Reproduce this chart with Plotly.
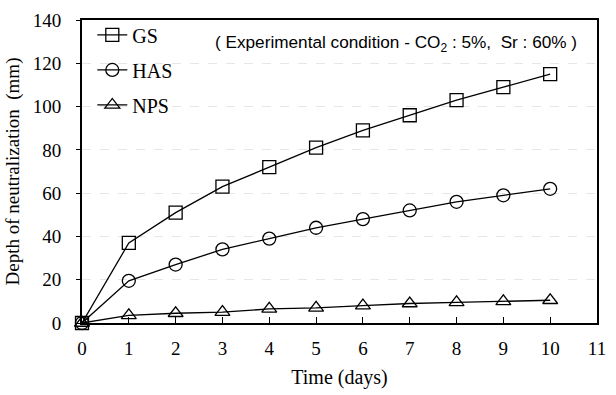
import plotly.graph_objects as go

days = [0, 1, 2, 3, 4, 5, 6, 7, 8, 9, 10]
gs = [0, 37, 51, 63, 72, 81, 89, 96, 103, 109, 115]
has = [0, 19.5, 27, 34, 39, 44, 48, 52, 56, 59, 62]
nps = [0, 3.5, 4.5, 5, 6.5, 7, 8, 9, 9.5, 10, 10.5]

series = [
    ("GS", gs, "square-open", 13),
    ("HAS", has, "circle-open", 13),
    ("NPS", nps, "triangle-up-open", 13),
]

fig = go.Figure()
for i, (name, vals, sym, sz) in enumerate(series):
    fig.add_trace(go.Scatter(
        x=days, y=vals, name=name, mode="lines+markers",
        line=dict(color="black", width=1.3),
        marker=dict(symbol=sym, size=sz, color="black", line=dict(width=1.3, color="black")),
        cliponaxis=False, legendgroup=name,
    ))

fig.add_annotation(
    x=0.61, y=0.924, xref="paper", yref="paper", xanchor="center", yanchor="middle",
    text="( Experimental condition - CO<sub>2</sub> : 5%,  Sr : 60% )",
    showarrow=False, font=dict(family="Liberation Sans", size=17.2, color="black"),
)

fig.update_layout(
    width=616, height=395,
    margin=dict(l=82, r=10, t=15, b=70),
    paper_bgcolor="white", plot_bgcolor="white",
    font=dict(family="Liberation Serif", color="black", size=19),
    showlegend=True,
    legend=dict(x=0.02, y=1.015, xanchor="left", yanchor="top",
                bgcolor="rgba(0,0,0,0)", font=dict(size=20, family="Liberation Serif"),
                tracegroupgap=6, itemwidth=30),
    xaxis=dict(range=[0, 11], dtick=1, tick0=0, showgrid=False, zeroline=False,
               showline=True, linecolor="black", linewidth=2, mirror=True,
               ticks="inside", ticklen=6, tickwidth=1, tickcolor="black",
               tickfont=dict(size=19), ticklabelstandoff=7,
               title=dict(text="Time (days)", font=dict(size=20), standoff=12)),
    yaxis=dict(range=[0, 140], dtick=20, tick0=0, showgrid=True,
               gridcolor="#e6e6e6", griddash="dash", gridwidth=1, zeroline=False,
               showline=True, linecolor="black", linewidth=2, mirror=True,
               ticks="outside", ticklen=4, tickwidth=1, tickcolor="black",
               tickfont=dict(size=19), ticklabelstandoff=11,
               title=dict(text="Depth of neutralization  (mm)", font=dict(size=19), standoff=8)),
)

fig.write_html("out.html")
